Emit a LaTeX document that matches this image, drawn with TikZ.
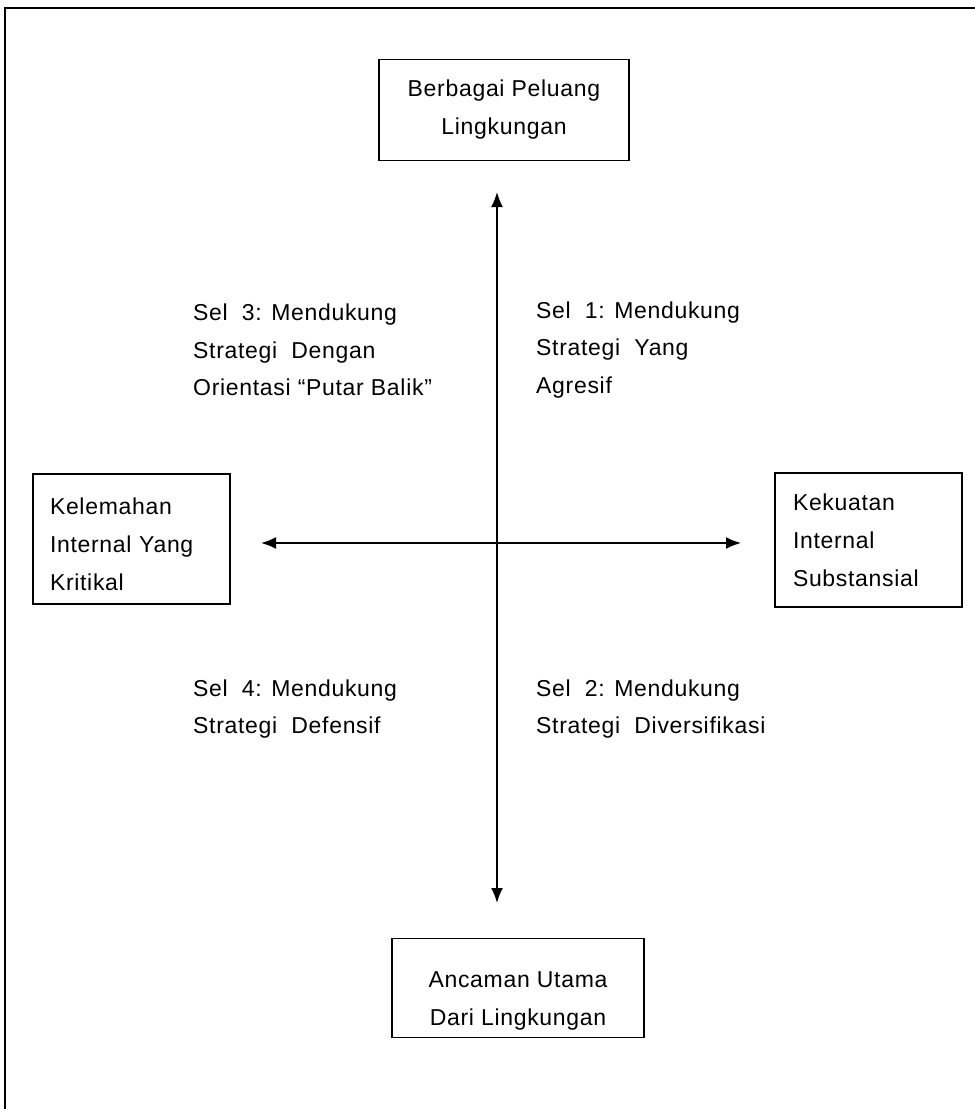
\documentclass[tikz,border=0pt]{standalone}
\usepackage{fontspec}
\setmainfont{Liberation Sans}[LetterSpace=3]
\usetikzlibrary{arrows.meta}
\newcommand{\turun}[1]{\rule{0pt}{#1}}
\tikzset{
  kotak/.style={draw=black, line width=1.8pt, inner sep=0pt, align=center,
    font=\fontsize{23}{38}\selectfont},
  teks/.style={anchor=west, align=left, inner sep=0pt,
    font=\fontsize{23}{37.5}\selectfont},
  panah/.style={black, line width=1.8pt, {Latex[length=15pt,width=12pt]}-{Latex[length=15pt,width=12pt]}}
}
\begin{document}
\begin{tikzpicture}[x=1pt,y=-1pt]
        \useasboundingbox (0,0) rectangle (975,1109);
        % bingkai luar
        \draw[black, line width=2.2pt] (5,1109) -- (5,8) -- (975,8);
        % kotak
        \node[kotak, minimum width=250pt, minimum height=101pt] (peluang) at (504,110) {Berbagai Peluang\\Lingkungan};
        \node[kotak, minimum width=252pt, minimum height=99pt] (ancaman) at (518,988) {\turun{41pt}Ancaman Utama\\Dari Lingkungan};
        \node[kotak, minimum width=197pt, minimum height=130pt, text width=163pt, align=left] (kelemahan) at (131.5,539) {\turun{27pt}Kelemahan\\Internal Yang\\Kritikal};
        \node[kotak, minimum width=187pt, minimum height=134pt, text width=151pt, align=left] (kekuatan) at (868.5,540) {Kekuatan\\Internal\\Substansial};
        % sumbu
        \coordinate (atas) at (497,192);
        \coordinate (bawah) at (497,903);
        \coordinate (kiri) at (261,543);
        \coordinate (kanan) at (741,543);
        \draw[panah] (atas) -- (bawah);
        \draw[panah] (kiri) -- (kanan);
        % sel
        \node[teks] (sel3) at (193,350) {Sel~~3: Mendukung\\Strategi~~Dengan\\Orientasi “Putar Balik”};
        \node[teks] (sel1) at (536,350) {Sel~~1: Mendukung\\Strategi~~Yang\\Agresif};
        \node[teks] (sel4) at (193,709) {Sel~~4: Mendukung\\Strategi~~Defensif};
        \node[teks] (sel2) at (536,709) {Sel~~2: Mendukung\\Strategi~~Diversifikasi};
    \end{tikzpicture}
\end{document}
